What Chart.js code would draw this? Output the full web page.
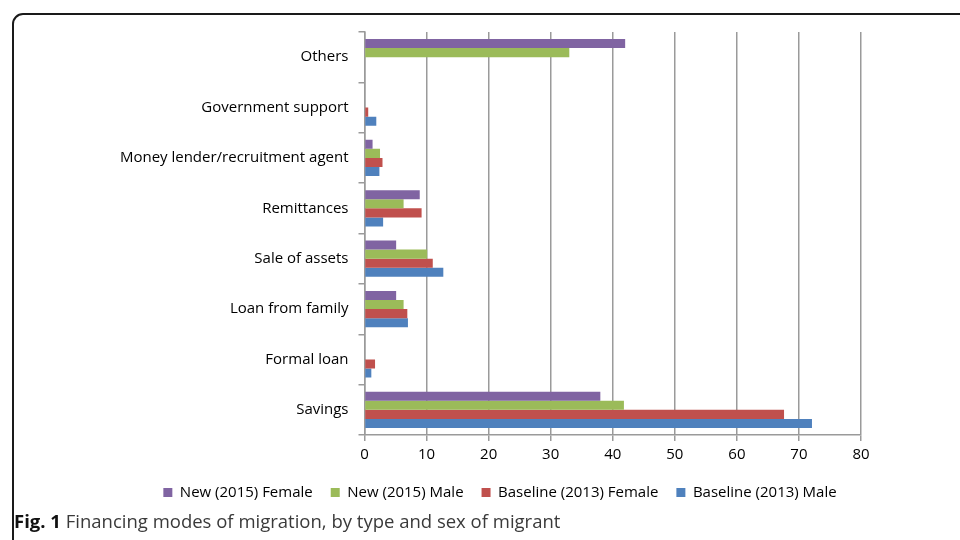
<!DOCTYPE html>
<html>
<head>
<meta charset="utf-8">
<script src="https://cdn.jsdelivr.net/npm/chart.js@4"></script>
<style>
  html,body{margin:0;padding:0;background:#fff;width:960px;height:540px;overflow:hidden;}
  #frame{position:absolute;left:12px;top:13px;width:1000px;height:600px;border:2px solid #1a1a1a;border-top-left-radius:11px;box-sizing:border-box;}
  #wrap{position:absolute;left:0;top:0;width:960px;height:510px;}
  #caption{position:absolute;left:14px;top:508px;font-family:"Open Sans",sans-serif;font-size:18.5px;color:#3a3a3a;white-space:nowrap;}
  #caption b{color:#111;}
</style>
</head>
<body>
<div id="frame"></div>
<div id="wrap"><canvas id="c"></canvas></div>
<div id="caption"><b>Fig. 1</b> Financing modes of migration, by type and sex of migrant</div>
<script>
const categories = ["Others","Government support","Money lender/recruitment agent","Remittances","Sale of assets","Loan from family","Formal loan","Savings"];
const seriesNames = ["New (2015) Female","New (2015) Male","Baseline (2013) Female","Baseline (2013) Male"];
const newFemale      = [42, 0, 1.3, 8.9, 5.1, 5.1, 0, 38.0];
const newMale        = [33, 0, 2.5, 6.3, 10.1, 6.3, 0, 41.8];
const baselineFemale = [0, 0.6, 2.9, 9.2, 11.0, 6.9, 1.7, 67.6];
const baselineMale   = [0, 1.9, 2.4, 3.0, 12.7, 7.0, 1.1, 72.1];
const xTicks = [0,10,20,30,40,50,60,70,80];
const colors = ["#8064A2","#9BBB59","#C0504D","#4F81BD"];

const seriesValues = [newFemale,newMale,baselineFemale,baselineMale];
const font = {family:"Open Sans", size:15};

const legendShift = {
  id:'legendShift',
  afterLayout(chart){
    const lg = chart.legend;
    if(!lg) return;
    lg.left = 139; lg.right = 861; lg.width = 722;
    lg.adjustHitBoxes();
  }
};

new Chart(document.getElementById('c'), {
  type:'bar',
  data:{
    labels:categories,
    datasets:seriesValues.map((v,i)=>({
      label:seriesNames[i], data:v, backgroundColor:colors[i],
      barPercentage:1, categoryPercentage:0.72
    }))
  },
  options:{
    indexAxis:'y',
    responsive:true, maintainAspectRatio:false, animation:false,
    devicePixelRatio:1,
    layout:{padding:{top:32,right:99,left:0,bottom:0}},
    scales:{
      x:{
        min:0,max:80,
        afterBuildTicks:(s)=>{s.ticks = xTicks.map(v=>({value:v}));},
        afterFit:(s)=>{s.height=32;},
        grid:{color:'#9a9a9a',lineWidth:1.5,tickLength:6,drawOnChartArea:true},
        border:{color:'#9a9a9a',width:1.5},
        ticks:{color:'#000',font:font,padding:5}
      },
      y:{
        afterFit:(s)=>{s.width=364.5;},
        grid:{color:'#9a9a9a',lineWidth:1.5,tickLength:6,drawOnChartArea:false,offset:true},
        border:{color:'#9a9a9a',width:1.5},
        ticks:{color:'#000',font:font,padding:10}
      }
    },
    plugins:{
      legend:{
        position:'bottom',
        labels:{boxWidth:9,boxHeight:9,color:'#000',font:font,padding:18}
      },
      tooltip:{enabled:false}
    }
  },
  plugins:[legendShift]
});
</script>
</body>
</html>
